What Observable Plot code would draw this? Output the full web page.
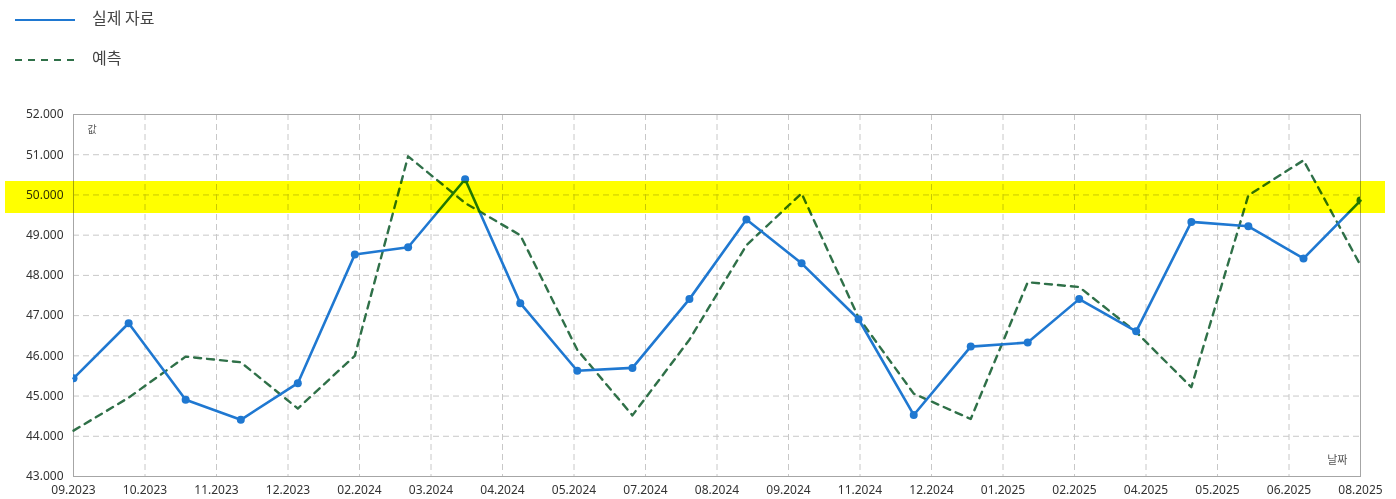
<!DOCTYPE html>
<html>
<head>
<meta charset="utf-8">
<script src="https://cdn.jsdelivr.net/npm/d3@7"></script>
<script src="https://cdn.jsdelivr.net/npm/@observablehq/plot@0.6"></script>
<style>
  html, body { margin: 0; padding: 0; background: #fff; }
  body { width: 1396px; height: 499px; overflow: hidden; font-family: "Noto Sans", "Noto Sans CJK KR", sans-serif; }
  #legend { position: relative; height: 100px; width: 1396px; }
  .item { position: absolute; left: 0; height: 20px; }
  .item svg { position: absolute; left: 15px; top: 0; }
  .item span { position: absolute; left: 92px; top: -3px; font-size: 16px; color: #444; font-family: "Noto Sans CJK KR", sans-serif; white-space: nowrap; line-height: 20px; }
  #chart svg { display: block; }
</style>
</head>
<body>
<div id="legend"></div>
<div id="chart"></div>
<script>
// ---- data ----
const months = ["2023-09-01","2023-10-01","2023-11-01","2023-12-01","2024-01-01","2024-02-01","2024-03-01","2024-04-01",
  "2024-05-01","2024-06-01","2024-07-01","2024-08-01","2024-09-01","2024-10-01","2024-11-01","2024-12-01",
  "2025-01-01","2025-02-01","2025-03-01","2025-04-01","2025-05-01","2025-06-01","2025-07-01","2025-08-01"];
const actual = [45440, 46810, 44910, 44410, 45320, 48520, 48700, 50390, 47310, 45630, 45700, 47410,
  49390, 48300, 46910, 44530, 46230, 46330, 47410, 46610, 49330, 49220, 48420, 49860];
const forecast = [44140, 44960, 45980, 45840, 44690, 46000, 50960, 49800, 49000, 46150, 44520, 46400,
  48750, 50040, 46950, 45060, 44430, 47830, 47710, 46590, 45220, 49990, 50860, 48250];
const seriesNames = ["실제 자료", "예측"];
const tickLabels = ["09.2023","10.2023","11.2023","12.2023","02.2024","03.2024","04.2024","05.2024","07.2024",
  "08.2024","09.2024","11.2024","12.2024","01.2025","02.2025","04.2025","05.2025","06.2025","08.2025"];
const yTicks = [43000, 44000, 45000, 46000, 47000, 48000, 49000, 50000, 51000, 52000];
const highlight = [50000];
const yLabel = "값";
const xLabel = "날짜";

const blue = "#1f78d1";
const green = "#2f7048";

// ---- table ----
const parse = d3.utcParse("%Y-%m-%d");
const rows = months.map((m, i) => ({date: parse(m), actual: actual[i], forecast: forecast[i]}));
const start = rows[0].date, end = rows[rows.length - 1].date;
const step = (end - start) / (tickLabels.length - 1);
const xTicks = tickLabels.map((_, i) => new Date(+start + i * step));
const locale = d3.formatLocale({decimal: ",", thousands: ".", grouping: [3], currency: ["", ""]});
const yFmt = v => locale.format(",.0f")(v);

// ---- legend ----
const legend = document.getElementById("legend");
[[seriesNames[0], blue, null, 10], [seriesNames[1], green, "7,6", 50]].forEach(([name, color, dash, top]) => {
  const div = document.createElement("div");
  div.className = "item";
  div.style.top = top + "px";
  div.innerHTML = `<svg width="62" height="20"><line x1="0" x2="60" y1="10" y2="10" stroke="${color}" stroke-width="2.2" ${dash ? `stroke-dasharray="${dash}"` : ""}/></svg><span>${name}</span>`;
  legend.appendChild(div);
});

// ---- chart ----
const chart = Plot.plot({
  width: 1396,
  height: 399,
  marginTop: 14,
  marginBottom: 23,
  marginLeft: 73,
  marginRight: 36,
  style: {fontFamily: "'Noto Sans', 'DejaVu Sans', sans-serif", fontSize: "12px", color: "#333", background: "#fff"},
  x: {type: "utc", domain: [start, end]},
  y: {domain: [43000, 52000]},
  marks: [
    Plot.gridX(xTicks, {stroke: "#c8c8c8", strokeOpacity: 1, strokeDasharray: "6,4"}),
    Plot.gridY(yTicks, {stroke: "#c8c8c8", strokeOpacity: 1, strokeDasharray: "6,4"}),
    Plot.frame({stroke: "#a6a6a6"}),
    Plot.axisX(xTicks, {tickSize: 0, tickPadding: 9, fontSize: 12, tickFormat: (d, i) => tickLabels[i], label: null, fill: "#333"}),
    Plot.axisY(yTicks, {tickSize: 0, tickPadding: 10, fontSize: 12, tickFormat: yFmt, label: null, fill: "#333"}),
    Plot.text([yLabel], {frameAnchor: "top-left", dx: 14, dy: 11, fontSize: 10, fill: "#555", fontFamily: "'Noto Sans CJK KR'"}),
    Plot.text([xLabel], {frameAnchor: "bottom-right", dx: -13, dy: -13, fontSize: 11, fill: "#555", fontFamily: "'Noto Sans CJK KR'"}),
    Plot.line(rows, {x: "date", y: "forecast", stroke: green, strokeWidth: 2.4, strokeDasharray: "7,6"}),
    Plot.line(rows, {x: "date", y: "actual", stroke: blue, strokeWidth: 2.6}),
    Plot.dot(rows, {x: "date", y: "actual", r: 4, fill: blue, clip: true}),
    Plot.ruleY(highlight, {stroke: "#ffff00", strokeWidth: 32, dy: 2, insetLeft: -68, insetRight: -25, mixBlendMode: "multiply"})
  ]
});
document.getElementById("chart").appendChild(chart);
</script>
</body>
</html>
